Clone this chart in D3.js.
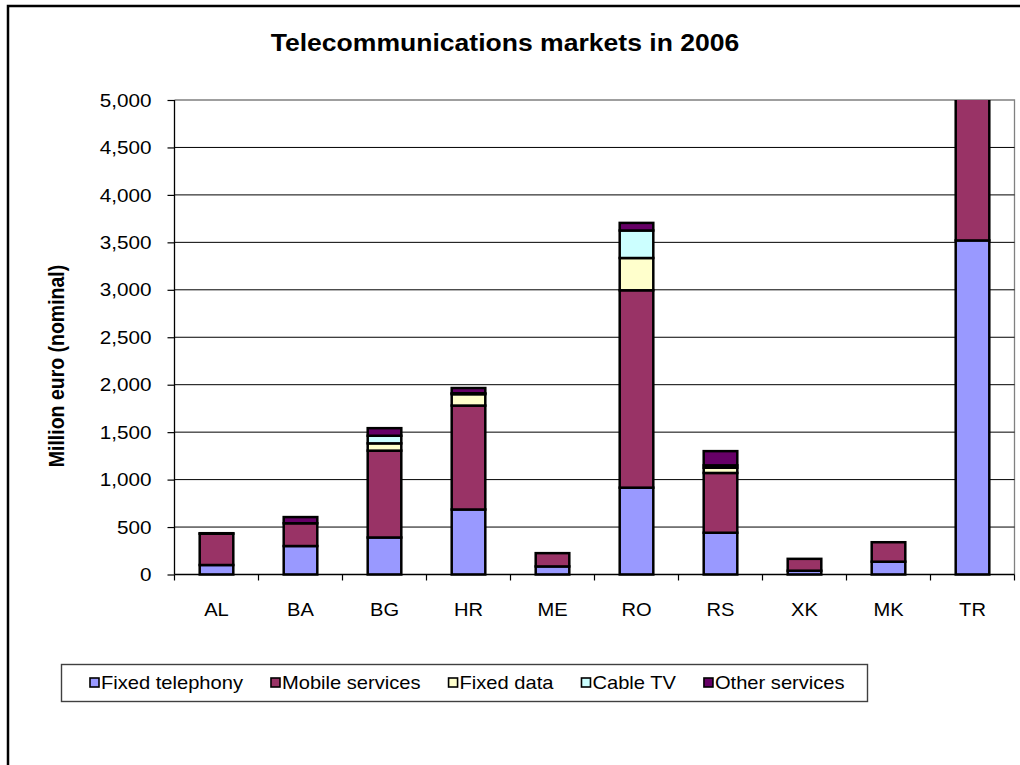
<!DOCTYPE html>
<html>
<head>
<meta charset="utf-8">
<script src="https://cdn.jsdelivr.net/npm/d3@7"></script>
<style>
  html, body { margin: 0; padding: 0; background: #fff; }
  svg { display: block; }
  text { font-family: "Liberation Sans", Arial, sans-serif; fill: #000; }
</style>
</head>
<body>
<svg id="chart" width="1020" height="765"></svg>
<script>
// Telecommunications market size by country, 2006 (million euro, nominal)
const categories = ["AL", "BA", "BG", "HR", "ME", "RO", "RS", "XK", "MK", "TR"];
const seriesNames = ["Fixed telephony", "Mobile services", "Fixed data", "Cable TV", "Other services"];
const fixedTelephony = [100, 300, 390, 685, 85, 915, 440, 40, 135, 3520];
const mobileServices = [330, 240, 915, 1095, 140, 2080, 630, 125, 205, 1700];
const fixedData      = [0, 0, 77, 120, 0, 340, 55, 0, 0, 0];
const cableTV        = [0, 0, 80, 10, 0, 290, 25, 0, 0, 0];
const otherServices  = [5, 65, 80, 55, 0, 80, 150, 0, 0, 0];
const yTicks = [0, 500, 1000, 1500, 2000, 2500, 3000, 3500, 4000, 4500, 5000];

const seriesColors = ["#9999FF", "#993366", "#FFFFCC", "#CCFFFF", "#660066"];
const sx = 1.15; // horizontal stretch of the lettering

const rows = categories.map((c, i) => ({
  cat: c,
  "Fixed telephony": fixedTelephony[i],
  "Mobile services": mobileServices[i],
  "Fixed data": fixedData[i],
  "Cable TV": cableTV[i],
  "Other services": otherServices[i]
}));

const svg = d3.select("#chart");

// outer chart frame (runs off the right and bottom edges)
svg.append("rect")
  .attr("x", 8).attr("y", 6).attr("width", 1040).attr("height", 800)
  .attr("fill", "#fff").attr("stroke", "#000").attr("stroke-width", 2.5);

const plot = { left: 174.5, right: 1014.5, top: 100, bottom: 574.5 };

const x = d3.scaleBand()
  .domain(categories)
  .range([plot.left, plot.right])
  .paddingInner(0.6)
  .paddingOuter(0.3);

const y = d3.scaleLinear()
  .domain([0, 5000])
  .range([plot.bottom, plot.top]);

// title
svg.append("text")
  .attr("transform", `translate(505,51) scale(1.13,1)`)
  .attr("text-anchor", "middle")
  .attr("font-size", 23.5)
  .attr("font-weight", "bold")
  .text("Telecommunications markets in 2006");

// plot frame: grey top and right edges
svg.append("path")
  .attr("d", `M${plot.left},${plot.top}H${plot.right}V${plot.bottom}`)
  .attr("fill", "none").attr("stroke", "#808080").attr("stroke-width", 1.3);

// horizontal gridlines
svg.append("g")
  .selectAll("line")
  .data(yTicks.filter(t => t > 0 && t < 5000))
  .join("line")
  .attr("x1", plot.left).attr("x2", plot.right)
  .attr("y1", d => y(d)).attr("y2", d => y(d))
  .attr("stroke", "#000").attr("stroke-width", 1);

// stacked bars, clipped to the plot area
svg.append("clipPath").attr("id", "plotClip")
  .append("rect")
  .attr("x", plot.left - 5).attr("y", plot.top)
  .attr("width", plot.right - plot.left + 10)
  .attr("height", plot.bottom - plot.top + 5);

const stack = d3.stack().keys(seriesNames);
const stacked = stack(rows);

const barLayer = svg.append("g").attr("clip-path", "url(#plotClip)");
stacked.forEach((layer, si) => {
  barLayer.append("g")
    .selectAll("rect")
    .data(layer.filter(d => d[1] - d[0] > 0))
    .join("rect")
    .attr("x", d => x(d.data.cat))
    .attr("width", x.bandwidth())
    .attr("y", d => y(d[1]))
    .attr("height", d => y(d[0]) - y(d[1]))
    .attr("fill", seriesColors[si])
    .attr("stroke", "#000")
    .attr("stroke-width", 2.5);
});

// y axis
const yAxis = svg.append("g")
  .attr("transform", `translate(${plot.left},0)`)
  .call(d3.axisLeft(y).tickValues(yTicks).tickSize(7).tickFormat(d3.format(",")));
yAxis.select(".domain").attr("stroke", "#000").attr("stroke-width", 1.3)
  .attr("d", `M0,${plot.top}V${plot.bottom}`);
yAxis.selectAll(".tick line").attr("stroke", "#000").attr("stroke-width", 1.2);
yAxis.selectAll(".tick text")
  .attr("font-family", "Liberation Sans, Arial, sans-serif")
  .attr("font-size", 18)
  .attr("x", -23 / sx)
  .attr("dy", "0.34em")
  .attr("transform", `scale(${sx},1)`);

// x axis baseline, boundary ticks and category labels
svg.append("line")
  .attr("x1", plot.left).attr("x2", plot.right)
  .attr("y1", plot.bottom).attr("y2", plot.bottom)
  .attr("stroke", "#000").attr("stroke-width", 1.3);

svg.append("g")
  .selectAll("line")
  .data(d3.range(categories.length + 1))
  .join("line")
  .attr("x1", i => plot.left + i * x.step())
  .attr("x2", i => plot.left + i * x.step())
  .attr("y1", plot.bottom).attr("y2", plot.bottom + 6)
  .attr("stroke", "#000").attr("stroke-width", 1.2);

svg.append("g")
  .selectAll("text")
  .data(categories)
  .join("text")
  .attr("transform", d => `translate(${x(d) + x.bandwidth() / 2},616) scale(${sx},1)`)
  .attr("text-anchor", "middle")
  .attr("font-size", 17.5)
  .text(d => d);

// y axis title
svg.append("text")
  .attr("transform", `translate(64,366) scale(${sx},1) rotate(-90)`)
  .attr("text-anchor", "middle")
  .attr("font-size", 19.5)
  .attr("font-weight", "bold")
  .text("Million euro (nominal)");

// legend
const legend = svg.append("g");
legend.append("rect")
  .attr("x", 61.5).attr("y", 664.5).attr("width", 806).attr("height", 37)
  .attr("fill", "#fff").attr("stroke", "#404040").attr("stroke-width", 1.4);

let lx = 90;
seriesNames.forEach((name, i) => {
  legend.append("rect")
    .attr("x", lx).attr("y", 678).attr("width", 9).attr("height", 9)
    .attr("fill", seriesColors[i]).attr("stroke", "#000").attr("stroke-width", 1.6);
  const t = legend.append("text")
    .attr("transform", `translate(${lx + 11},689) scale(${sx},1)`)
    .attr("font-size", 17.5)
    .text(name);
  const w = t.node().getComputedTextLength() * sx;
  lx += 11 + w + 28;
});
</script>
</body>
</html>
